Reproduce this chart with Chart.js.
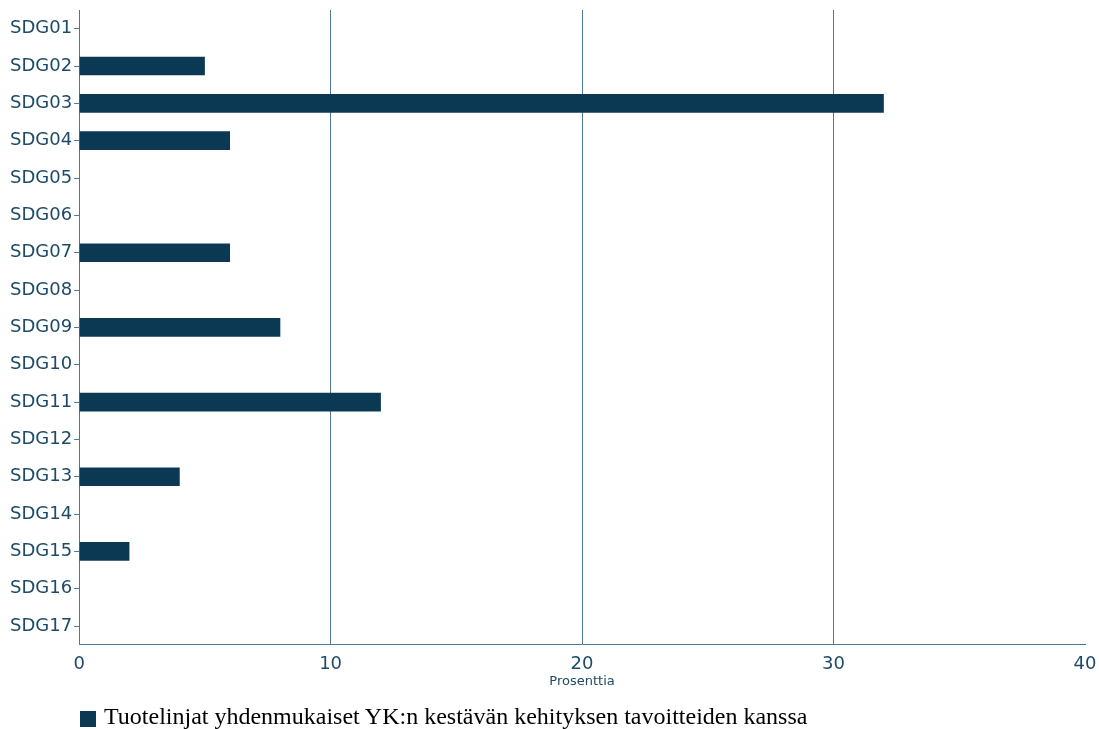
<!DOCTYPE html>
<html>
<head>
<meta charset="utf-8">
<script src="https://cdn.jsdelivr.net/npm/chart.js@4"></script>
<style>
  html, body { margin: 0; padding: 0; background: #fff; }
  #wrap { position: relative; width: 1099px; height: 729px; }
  #legend {
    position: absolute; left: 80px; top: 703px;
    font-family: 'Liberation Serif', 'Times New Roman', serif; font-size: 24px; color: #000;
    display: flex; align-items: center; white-space: nowrap;
  }
  #legend .box { width: 16px; height: 16px; background: #0b3954; margin-right: 8px; margin-top: 5px; }
</style>
</head>
<body>
<div id="wrap">
  <canvas id="chart" width="1099" height="729"></canvas>
  <div id="legend"><span class="box"></span><span id="legend-text"></span></div>
</div>
<script>
// --- DATI ---
const categories = ['SDG01', 'SDG02', 'SDG03', 'SDG04', 'SDG05', 'SDG06', 'SDG07', 'SDG08', 'SDG09',
                    'SDG10', 'SDG11', 'SDG12', 'SDG13', 'SDG14', 'SDG15', 'SDG16', 'SDG17'];
const values = [0, 5, 32, 6, 0, 0, 6, 0, 8, 0, 12, 0, 4, 0, 2, 0, 0];
const seriesLabel = 'Tuotelinjat yhdenmukaiset YK:n kestävän kehityksen tavoitteiden kanssa';
const xTicks = [0, 10, 20, 30, 40];
const axisTitle = 'Prosenttia';

const barColor = '#0b3954';
const textColor = '#1d4a66';
const lineColor = '#4f7892';

document.getElementById('legend-text').innerText = seriesLabel;

new Chart(document.getElementById('chart'), {
    type: 'bar',
    data: {
        labels: categories,
        datasets: [{
            label: seriesLabel,
            data: values,
            backgroundColor: barColor,
            borderWidth: 0,
            barPercentage: 0.5,
            categoryPercentage: 1
        }]
    },
    options: {
        indexAxis: 'y',
        responsive: false,
        animation: false,
        layout: { padding: { left: 8, right: 0, top: 10, bottom: 40 } },
        plugins: {
            legend: { display: false },
            tooltip: { enabled: false }
        },
        scales: {
            x: {
                min: 0,
                max: 40,
                afterBuildTicks: axis => { axis.ticks = xTicks.map(v => ({ value: v })); },
                // margine destro fisso come nell'originale
                afterFit: axis => { axis.paddingRight = 14; },
                grid: {
                    color: ctx => (ctx.tick && (ctx.tick.value === 0 || ctx.tick.value === 40)) ? 'rgba(0,0,0,0)' : lineColor,
                    lineWidth: 1,
                    drawTicks: false
                },
                border: { display: true, color: lineColor, width: 1 },
                ticks: {
                    color: textColor,
                    padding: 9,
                    font: { family: "'DejaVu Sans', sans-serif", size: 18 }
                },
                title: {
                    display: true,
                    text: axisTitle,
                    color: textColor,
                    padding: { top: -11, bottom: 0 },
                    font: { family: "'DejaVu Sans', sans-serif", size: 13 }
                }
            },
            y: {
                afterFit: axis => { axis.paddingTop = 0; axis.paddingBottom = 0; },
                grid: { display: true, offset: false, drawOnChartArea: false, color: lineColor, tickLength: 5 },
                border: { display: true, color: lineColor, width: 1 },
                ticks: {
                    color: textColor,
                    padding: 2,
                    font: { family: "'DejaVu Sans', sans-serif", size: 18 }
                }
            }
        }
    }
});
</script>
</body>
</html>
